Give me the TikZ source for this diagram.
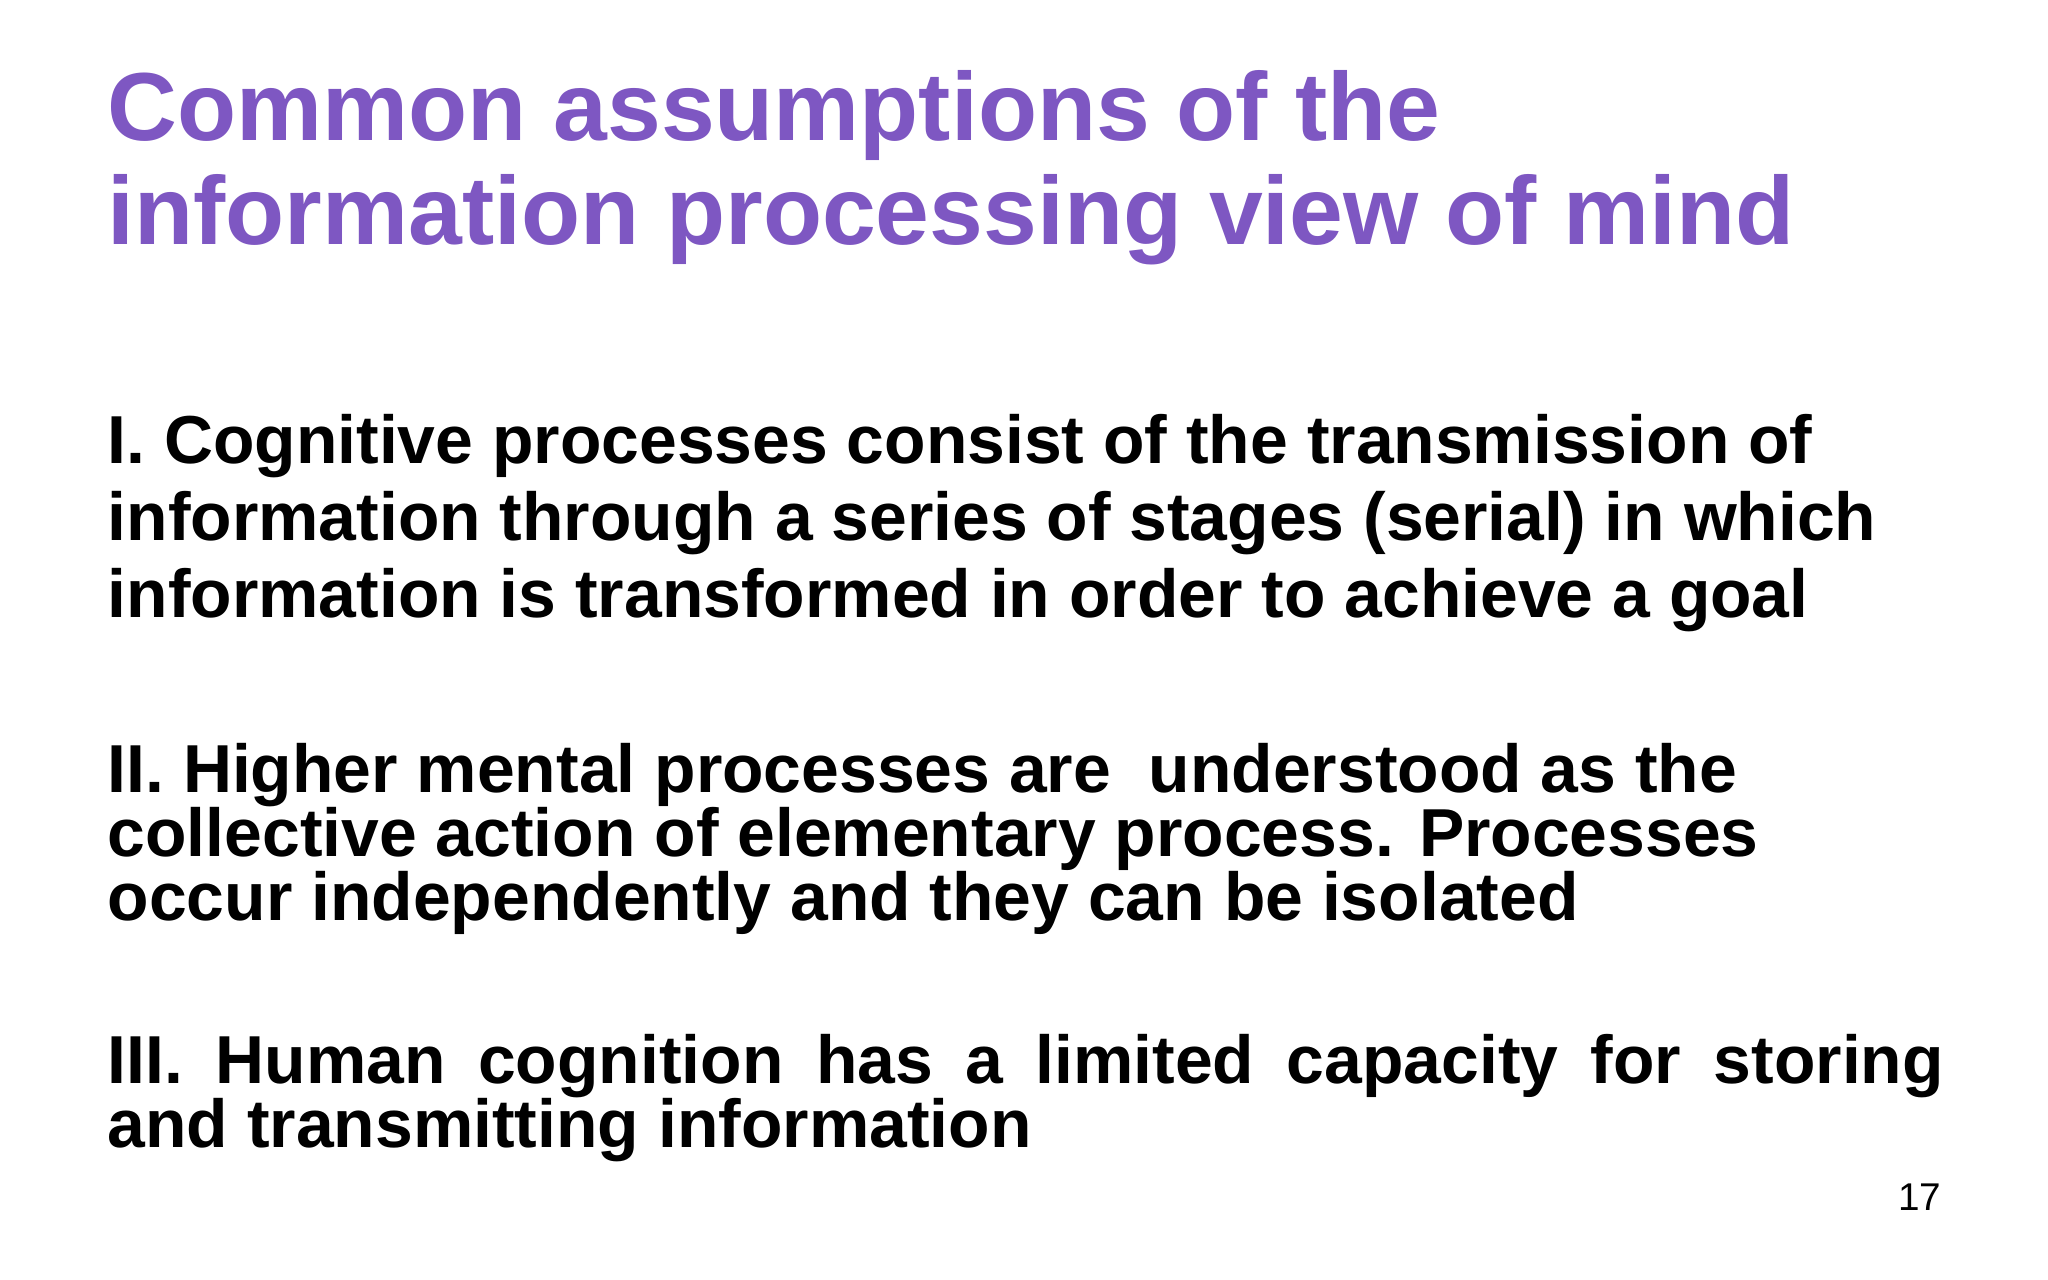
\documentclass[tikz,border=0pt]{standalone}
\usepackage{fontspec}
\setmainfont{Liberation Sans}
\definecolor{ttl}{HTML}{7E57C2}
\begin{document}
\begin{tikzpicture}[x=0.01cm,y=-0.01cm,
  ttlstyle/.style={anchor=base west,inner sep=0,text=ttl,font=\fontsize{27.5}{30}\selectfont\bfseries},
  body/.style={anchor=base west,inner sep=0,font=\fontsize{19.3}{22}\selectfont\bfseries}]
\useasboundingbox[fill=white] (0,0) rectangle (2048,1280);
\node[ttlstyle] (t1) at (107,141) {Common assumptions of the};
\node[ttlstyle] (t2) at (107,245) {information processing view of mind};
\node[body] (a1) at (107,464) {I. Cognitive processes consist of the transmission of};
\node[body] (a2) at (107,541) {information through a series of stages (serial) in which};
\node[body] (a3) at (107,618) {information is transformed in order to achieve a goal};
\node[body] (b1) at (107,793) {II. Higher mental processes are\ \ understood as the};
\node[body] (b2) at (107,857) {collective action of elementary process. Processes};
\node[body] (b3) at (107,921) {occur independently and they can be isolated};
\node[body] (c1) at (107,1084) {\makebox[18.35cm][s]{III. Human cognition has a limited capacity for storing}};
\node[body] (c2) at (107,1148) {and transmitting information};
\node[anchor=base east,inner sep=0,font=\fontsize{11}{13}\selectfont] (pg) at (1942,1211) {17};
\end{tikzpicture}
\end{document}
